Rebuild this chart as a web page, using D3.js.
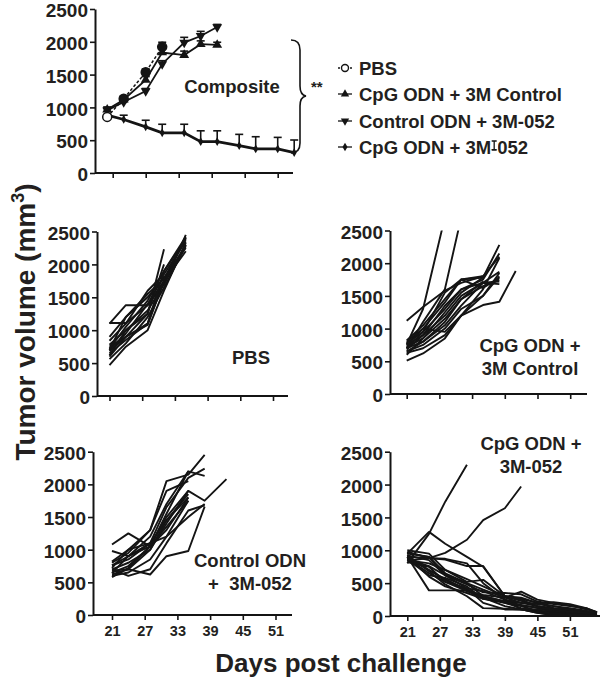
<!DOCTYPE html>
<html><head><meta charset="utf-8">
<script src="https://cdn.jsdelivr.net/npm/d3@7"></script>
<style>
body{margin:0;background:#fff;}
text{font-family:"Liberation Sans",Arial,Helvetica,sans-serif;font-weight:bold;fill:#231f20;}
</style></head><body>
<svg id="c" width="600" height="681"></svg>
<script>
// ---------- data ----------
const yTicks = [0, 500, 1000, 1500, 2000, 2500];
const xTicks = [21, 27, 33, 39, 45, 51];

// composite panel (group means, upward SEM)
const compDays = [20, 23, 27, 30, 34, 37, 40, 44, 47, 51, 54];
const pbsMean = [855, 1133, 1535, 1923];
const pbsErr = [30, 40, 50, 70];
const cpgCtrlMean = [967, 1118, 1420, 1837, 1798, 1964, 1953];
const cpgCtrlErr = [40, 40, 50, 60, 60, 50, 40];
const ctrlOdnMean = [955, 1082, 1248, 1662, 1988, 2089, 2225];
const ctrlOdnErr = [40, 40, 40, 50, 80, 70, 40];
const cpg3mMean = [881, 816, 704, 613, 613, 477, 477, 417, 367, 367, 311];
const cpg3mErr = [0, 65, 100, 130, 130, 166, 166, 172, 186, 176, 192];
const legendLabels = ["PBS", "CpG ODN + 3M Control", "Control ODN + 3M-052", "CpG ODN + 3M-052"];

// individual mice
const pbsDays = [21, 24, 28, 31, 35];
const pbsMice = [
  [1110, 1110, 1380, 1700, 2300],
  [1100, 1380, 1380, 1750, 2400],
  [900, 1200, 1500, 1800, 2250],
  [840, 1100, 1600, 1850, 2350],
  [780, 1000, 1300, 1700, 2450],
  [750, 900, 1100, 1750, 2300],
  [720, 1050, 1450, 1900, 2380],
  [700, 950, 1400, 1820],
  [680, 900, 1250, 2000],
  [650, 850, 1100, 1900, 2420],
  [620, 1000, 1250, 2230],
  [600, 900, 1080, 1750, 2200],
  [560, 800, 1200, 1650, 2280],
  [470, 750, 1000, 1600, 2330],
  [700, 1200, 1550, 1780, 2400]
];

const cpgCtrlDays = [21, 24, 28, 31, 35, 38, 41];
const cpgCtrlMice = [
  [1120, 1330, 1580, 1700, 1800, 2100],
  [760, 1300, 2700],
  [700, 1100, 1600, 2700],
  [800, 1000, 1400, 1750, 1780, 2280],
  [780, 950, 1300, 1600, 1750, 2150],
  [750, 900, 1200, 1500, 1700, 1870],
  [720, 850, 1150, 1450, 1650, 1750],
  [700, 800, 1050, 1350, 1700, 1720],
  [680, 900, 1350, 1600, 1700, 1680],
  [650, 750, 1000, 1300, 1500, 1800],
  [630, 700, 900, 1200, 1600, 2080],
  [600, 850, 1250, 1550, 1780],
  [510, 620, 850, 1200, 1360, 1410, 1880],
  [820, 1050, 1450, 1750, 1800],
  [700, 950, 1550, 1750, 1620, 1780],
  [650, 800, 1100, 1450, 1720],
  [740, 1000, 950, 1200, 1500, 1850]
];

const ctrlOdnDays = [21, 24, 28, 31, 35, 38, 42];
const ctrlOdnMice = [
  [1080, 1250, 1050, 1550, 2200, 2130],
  [980, 900, 1100, 1650, 2100, 2240],
  [820, 1000, 1300, 2050, 2150, 2450],
  [760, 900, 1200, 1700, 2200],
  [700, 800, 1000, 1400, 1900, 1750, 2080],
  [680, 700, 620, 900, 980, 1660],
  [650, 750, 1050, 1300, 1800],
  [620, 700, 1000, 1450, 1850],
  [600, 650, 850, 1200, 1500, 1700],
  [580, 720, 1050, 1350, 1750],
  [720, 1000, 1100, 1450, 1800],
  [640, 900, 1050, 1500, 1900],
  [760, 850, 1100, 1200, 1750],
  [700, 600, 700, 1100, 1600, 1680],
  [800, 950, 1300, 1900, 2050]
];

const cpg3mDays = [21, 25, 28, 32, 35, 39, 42, 45, 48, 51, 54, 56];
const cpg3mMice = [
  [800, 1250, 1740, 2300],
  [900, 880, 960, 1160, 1460, 1640, 1970],
  [950, 1280, 1100, 900, 750, 300, 230, 150, 100, 60, 30, 0],
  [900, 390, 390, 390, 300, 220, 170, 120, 80, 50, 30, 10],
  [1000, 950, 700, 560, 450, 300, 260, 200, 150, 100, 60, 40],
  [950, 900, 650, 500, 400, 280, 200, 150, 110, 80, 40, 10],
  [920, 850, 620, 480, 360, 350, 330, 220, 180, 150, 120, 60],
  [900, 700, 560, 400, 300, 200, 150, 80, 50, 30, 10, 0],
  [880, 650, 520, 420, 380, 250, 100, 50, 20, 10, 0, 0],
  [860, 620, 580, 450, 260, 200, 120, 80, 60, 40, 20, 10],
  [850, 800, 700, 520, 550, 300, 280, 200, 120, 60, 30, 20],
  [820, 750, 520, 380, 280, 150, 100, 60, 40, 20, 10, 0],
  [980, 880, 860, 760, 760, 300, 250, 150, 120, 100, 60, 40],
  [930, 680, 480, 300, 120, 110, 100, 100, 80, 60, 40, 20],
  [900, 600, 450, 350, 260, 220, 200, 190, 210, 180, 120, 50],
  [870, 760, 620, 500, 300, 220, 160, 130, 100, 70, 50, 20],
  [960, 900, 620, 420, 200, 100, 100, 50, 10, 0, 0, 0],
  [890, 700, 550, 380, 320, 280, 370, 250, 200, 160, 100, 60],
  [840, 880, 870, 800, 500, 250, 200, 180, 150, 120, 80, 40]
];

// ---------- layout ----------
const svg = d3.select("#c");
const INK = "#141414";
svg.append("defs");

function makePanel(id, L, showXLabels) {
  const x = d3.scaleLinear().domain([21, 51]).range([L.d21, L.d21 + 30 * L.ppd]);
  const y = d3.scaleLinear().domain([0, 2500]).range([L.yB, L.yT]);
  const g = svg.append("g");
  const ya = g.append("g").attr("transform", `translate(${L.x0},0)`)
    .call(d3.axisLeft(y).tickValues(yTicks).tickFormat(d3.format("d")).tickSize(5).tickSizeOuter(0).tickPadding(2));
  ya.select(".domain").attr("stroke", INK).attr("stroke-width", 2);
  ya.selectAll(".tick line").attr("stroke", INK).attr("stroke-width", 1.6);
  ya.selectAll(".tick text").attr("font-size", 19).attr("font-family", null).attr("fill", "#231f20")
    .attr("dy", "0.4em");
  const xa = g.append("g").attr("transform", `translate(0,${L.yB})`)
    .call(d3.axisBottom(x).tickValues(xTicks).tickFormat(d3.format("d")).tickSize(5).tickSizeOuter(0).tickPadding(6));
  xa.select(".domain").remove();
  xa.append("line").attr("x1", L.x0).attr("x2", L.x1).attr("stroke", INK).attr("stroke-width", 2);
  xa.selectAll(".tick line").attr("stroke", INK).attr("stroke-width", 1.6);
  xa.selectAll(".tick text").attr("font-size", 14.5).attr("font-family", null).attr("fill", "#231f20");
  if (!showXLabels) xa.selectAll(".tick text").remove();
  svg.select("defs").append("clipPath").attr("id", "clip" + id)
    .append("rect").attr("x", L.x0).attr("y", L.yT).attr("width", L.x1 - L.x0 + 20).attr("height", L.yB - L.yT + 10);
  return {x, y, g};
}

function spaghetti(id, L, days, mice, showX) {
  const p = makePanel(id, L, showX);
  const line = d3.line().x((v, i) => p.x(days[i])).y(v => p.y(v));
  p.g.append("g").attr("clip-path", `url(#clip${id})`)
    .selectAll("path").data(mice).join("path")
    .attr("d", line).attr("fill", "none").attr("stroke", INK)
    .attr("stroke-width", 1.9).attr("stroke-linejoin", "round");
  return p;
}

// composite
const LC = {x0: 95, x1: 293, d21: 112.7, ppd: 5.5, yB: 173, yT: 9};
const pc = makePanel("comp", LC, false);
function series(mean, err, opts) {
  const line = d3.line().x((v, i) => pc.x(compDays[i])).y(v => pc.y(v));
  const g = pc.g.append("g");
  mean.forEach((m, i) => {
    if (!err[i]) return;
    const xx = pc.x(compDays[i]), y1 = pc.y(m), y2 = pc.y(m + err[i]);
    g.append("line").attr("x1", xx).attr("x2", xx).attr("y1", y1).attr("y2", y2)
      .attr("stroke", INK).attr("stroke-width", 1.6);
    g.append("line").attr("x1", xx - 4).attr("x2", xx + 4).attr("y1", y2).attr("y2", y2)
      .attr("stroke", INK).attr("stroke-width", 1.6);
  });
  g.append("path").attr("d", line(mean)).attr("fill", "none").attr("stroke", INK)
    .attr("stroke-width", opts.w).attr("stroke-dasharray", opts.dash || null);
  mean.forEach((m, i) => opts.mark(g, pc.x(compDays[i]), pc.y(m), i));
}
const tri = d3.symbol(d3.symbolTriangle, 42)();
const dia = d3.symbol(d3.symbolDiamond, 22)();
series(cpg3mMean, cpg3mErr, {w: 2.8, mark: (g, x, y) => g.append("path").attr("d", dia).attr("transform", `translate(${x},${y})`).attr("fill", INK)});
series(cpgCtrlMean, cpgCtrlErr, {w: 1.8, mark: (g, x, y) => g.append("path").attr("d", tri).attr("transform", `translate(${x},${y})`).attr("fill", INK)});
series(ctrlOdnMean, ctrlOdnErr, {w: 1.8, mark: (g, x, y) => g.append("path").attr("d", tri).attr("transform", `translate(${x},${y}) rotate(180)`).attr("fill", INK)});
series(pbsMean, pbsErr, {w: 1.5, dash: "3,2", mark: (g, x, y, i) => g.append("circle").attr("cx", x).attr("cy", y).attr("r", 4.5)
  .attr("fill", i === 0 ? "#fff" : INK).attr("stroke", INK).attr("stroke-width", 1.5)});

svg.append("text").attr("x", 232).attr("y", 93).attr("text-anchor", "middle").attr("font-size", 18.5).text("Composite");
svg.append("path").attr("d", "M291,40 Q300,40 300,50 L300,86 Q300,95 306,96 Q300,97 300,106 L300,143 Q300,153 291,153")
  .attr("fill", "none").attr("stroke", INK).attr("stroke-width", 1.6);
svg.append("text").attr("x", 311).attr("y", 92).attr("font-size", 15).text("**");

// legend
const legY = [68, 94, 121, 147];
const lg = svg.append("g");
legendLabels.forEach((lab, i) => {
  const yy = legY[i];
  lg.append("line").attr("x1", 338).attr("x2", 352).attr("y1", yy).attr("y2", yy).attr("stroke", INK).attr("stroke-width", 1.3)
    .attr("stroke-dasharray", i === 0 ? "2,2" : null);
  if (i === 0) lg.append("circle").attr("cx", 345).attr("cy", yy).attr("r", 3.5).attr("fill", "#fff").attr("stroke", INK).attr("stroke-width", 1.4);
  if (i === 1) lg.append("path").attr("d", d3.symbol(d3.symbolTriangle, 30)()).attr("transform", `translate(345,${yy})`).attr("fill", INK);
  if (i === 2) lg.append("path").attr("d", d3.symbol(d3.symbolTriangle, 30)()).attr("transform", `translate(345,${yy}) rotate(180)`).attr("fill", INK);
  if (i === 3) lg.append("path").attr("d", d3.symbol(d3.symbolDiamond, 22)()).attr("transform", `translate(345,${yy})`).attr("fill", INK);
  const t = lg.append("text").attr("x", 359).attr("y", yy).attr("dy", "0.36em").attr("font-size", 18.5).text(lab);
  if (i === 3) {
    const n = t.node();
    const s = n.getSubStringLength(0, 12), h = n.getSubStringLength(12, 1);
    const cx = 359 + s + h / 2;
    lg.append("rect").attr("x", cx - h / 2 - 0.5).attr("y", yy - 2).attr("width", h + 1).attr("height", 4).attr("fill", "#fff");
    lg.append("path").attr("d", `M${cx - 2.5},${yy - 6}H${cx + 2.5}M${cx},${yy - 6}V${yy + 3}M${cx - 2.5},${yy + 3}H${cx + 2.5}`)
      .attr("stroke", INK).attr("stroke-width", 1.3).attr("fill", "none");
  }
});

// individual panels
spaghetti("pbs", {x0: 97, x1: 288, d21: 109.5, ppd: 5.45, yB: 396, yT: 231.5}, pbsDays, pbsMice, false);
spaghetti("cc", {x0: 390, x1: 587, d21: 406.7, ppd: 5.45, yB: 394, yT: 230.5}, cpgCtrlDays, cpgCtrlMice, false);
spaghetti("co", {x0: 93, x1: 292, d21: 112, ppd: 5.45, yB: 615, yT: 451.7}, ctrlOdnDays, ctrlOdnMice, true);
spaghetti("c3", {x0: 390, x1: 600, d21: 407.3, ppd: 5.42, yB: 616, yT: 451.7}, cpg3mDays, cpg3mMice, true);

// panel labels
function label(x, y, lines) {
  lines.forEach((s, i) => svg.append("text").attr("x", x).attr("y", y + i * 23.5).attr("dy", "0.36em")
    .attr("text-anchor", "middle").attr("font-size", 18.5).style("white-space", "pre").text(s));
}
label(251, 357, ["PBS"]);
label(530, 345, ["CpG ODN +", "3M Control"]);
label(250, 560, ["Control ODN", "+  3M-052"]);
label(531, 443, ["CpG ODN +", "3M-052"]);

// axis titles
const yt = svg.append("text").attr("transform", "translate(35,322) rotate(-90)").attr("text-anchor", "middle").attr("font-size", 28);
yt.append("tspan").text("Tumor volume (mm");
yt.append("tspan").attr("font-size", 18).attr("dy", -11).text("3");
yt.append("tspan").attr("dy", 11).text(")");
svg.append("text").attr("x", 341).attr("y", 672).attr("text-anchor", "middle").attr("font-size", 26).text("Days post challenge");
</script>
</body></html>
